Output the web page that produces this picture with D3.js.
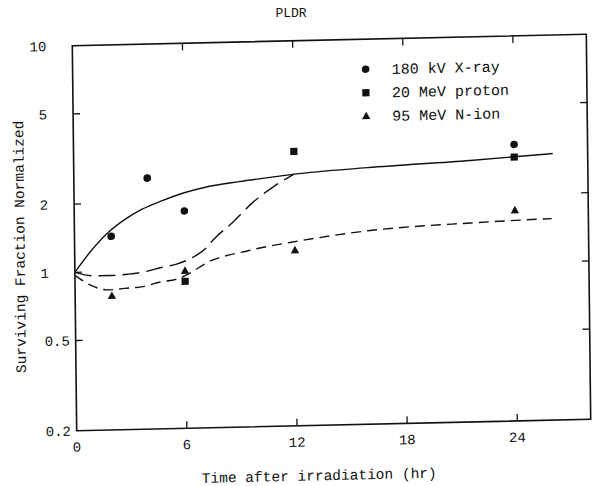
<!DOCTYPE html>
<html>
<head>
<meta charset="utf-8">
<script src="https://cdn.jsdelivr.net/npm/d3@7"></script>
<style>
  body { margin: 0; background: #fff; }
  text { font-family: "Liberation Mono", "DejaVu Sans Mono", monospace; fill: #111; }
</style>
</head>
<body>
<svg id="chart" width="599" height="486"></svg>
<script>
// measured points
var xrayT = [2, 4, 6, 24];
var xrayV = [1.43, 2.56, 1.82, 3.32];
var protonT = [6, 12, 24];
var protonV = [0.89, 3.25, 2.92];
var nionT = [2, 6, 12, 24];
var nionV = [0.78, 0.99, 1.19, 1.70];

// hand drawn fit curves
var xrayFitT = [0, 0.9, 1.85, 2.8, 3.7, 4.8, 6, 7.1, 9, 10.7, 12, 16, 21.6, 26.1];
var xrayFitV = [1.0, 1.24, 1.49, 1.70, 1.87, 2.03, 2.19, 2.30, 2.42, 2.51, 2.58, 2.71, 2.85, 3.0];
var protonFitT = [0, 1.1, 2, 2.9, 3.8, 4.7, 5.5, 6.4, 7.1, 7.6, 8.65, 9.75, 10.9, 12];
var protonFitV = [1.0, 0.96, 0.96, 0.97, 0.99, 1.03, 1.06, 1.13, 1.23, 1.36, 1.61, 1.96, 2.29, 2.58];
var nionFitT = [0, 0.9, 1.8, 2.7, 3.6, 4.7, 5.5, 6.4, 7.1, 9.5, 12.3, 16.1, 21.6, 26];
var nionFitV = [0.97, 0.87, 0.83, 0.84, 0.85, 0.89, 0.91, 0.98, 1.06, 1.2, 1.31, 1.43, 1.51, 1.55];

var xTicks = [0, 6, 12, 18, 24];
var yTicks = [10, 5, 2, 1, 0.5, 0.2];
var legendNames = ["180 kV X-ray", "20 MeV proton", "95 MeV N-ion"];

var W = 514, H = 385;

var svg = d3.select("#chart");

svg.append("text")
    .attr("x", 291).attr("y", 17)
    .attr("text-anchor", "middle")
    .style("font-size", "13px")
    .text("PLDR");

// the scan is slightly skewed, so the plot gets the same slant
var g = svg.append("g")
    .attr("transform", "matrix(1,-0.0222,0.0114,1,72.3,45.7)");

var x = d3.scaleLinear().domain([0, 28]).range([0, W]);
var y = d3.scaleLog().domain([0.2, 10]).range([H, 0]);

g.append("rect")
    .attr("width", W).attr("height", H)
    .attr("fill", "none")
    .attr("stroke", "#111")
    .attr("stroke-width", 1.6);

var tk = 7;
var inner = xTicks.filter(d => d > 0);
g.selectAll(".xtb").data(inner).enter().append("line")
    .attr("x1", d => x(d)).attr("x2", d => x(d))
    .attr("y1", H).attr("y2", H - tk)
    .attr("stroke", "#111").attr("stroke-width", 1.3);
g.selectAll(".xtt").data(inner).enter().append("line")
    .attr("x1", d => x(d)).attr("x2", d => x(d))
    .attr("y1", 0).attr("y2", tk)
    .attr("stroke", "#111").attr("stroke-width", 1.3);

var innerY = yTicks.filter(d => d < 10 && d > 0.2);
g.selectAll(".ytl").data(innerY).enter().append("line")
    .attr("x1", 0).attr("x2", tk)
    .attr("y1", d => y(d)).attr("y2", d => y(d))
    .attr("stroke", "#111").attr("stroke-width", 1.3);
g.selectAll(".ytr").data(innerY).enter().append("line")
    .attr("x1", W).attr("x2", W - tk)
    .attr("y1", d => y(d)).attr("y2", d => y(d))
    .attr("stroke", "#111").attr("stroke-width", 1.3);

g.selectAll(".xl").data(xTicks).enter().append("text")
    .attr("x", d => x(d))
    .attr("y", H + 21)
    .attr("text-anchor", "middle")
    .style("font-size", "14px")
    .text(d => d);

g.selectAll(".yl").data(yTicks).enter().append("text")
    .attr("x", d => d < 1 ? -31 : -26)
    .attr("y", d => y(d))
    .attr("dy", "0.35em")
    .attr("text-anchor", d => d < 1 ? "start" : "end")
    .style("font-size", "14px")
    .text(d => d);

g.append("text")
    .attr("x", 242).attr("y", H + 55)
    .attr("text-anchor", "middle")
    .style("font-size", "14.5px")
    .text("Time after irradiation (hr)");

g.append("text")
    .attr("transform", "translate(-50," + 200 + ") rotate(-90)")
    .attr("text-anchor", "middle")
    .style("font-size", "14.5px")
    .text("Surviving Fraction Normalized");

// fit curves
var line = d3.line()
    .x(d => x(d[0]))
    .y(d => y(d[1]))
    .curve(d3.curveMonotoneX);

var curves = [
    {t: xrayFitT, v: xrayFitV, dash: null},
    {t: protonFitT, v: protonFitV, dash: "17,7"},
    {t: nionFitT, v: nionFitV, dash: "10,6"}
];

g.selectAll(".fit").data(curves).enter().append("path")
    .attr("d", c => line(d3.zip(c.t, c.v)))
    .attr("fill", "none")
    .attr("stroke", "#111")
    .attr("stroke-width", 1.4)
    .attr("stroke-dasharray", c => c.dash);

// markers
var circleSym = "M0,-3.8A3.8,3.8 0 1,1 0,3.8A3.8,3.8 0 1,1 0,-3.8Z";
var squareSym = "M-3.6,-3.6H3.6V3.6H-3.6Z";
var triSym = "M0,-4.5L4.2,3L-4.2,3Z";

function drawMarkers(ts, vs, sym) {
    g.append("g").selectAll("path")
        .data(d3.zip(ts, vs))
        .enter().append("path")
        .attr("transform", d => "translate(" + x(d[0]) + "," + y(d[1]) + ")")
        .attr("d", sym)
        .attr("fill", "#111");
}

drawMarkers(xrayT, xrayV, circleSym);
drawMarkers(protonT, protonV, squareSym);
drawMarkers(nionT, nionV, triSym);

// legend
var syms = [circleSym, squareSym, triSym];
var leg = g.append("g").attr("transform", "translate(293,30)");
legendNames.forEach(function(name, i) {
    leg.append("path")
        .attr("transform", "translate(0," + (i * 23.5) + ")")
        .attr("d", syms[i])
        .attr("fill", "#111");
    leg.append("text")
        .attr("x", 26)
        .attr("y", i * 23.5)
        .attr("dy", "0.35em")
        .style("font-size", "15px")
        .text(name);
});
</script>
</body>
</html>
